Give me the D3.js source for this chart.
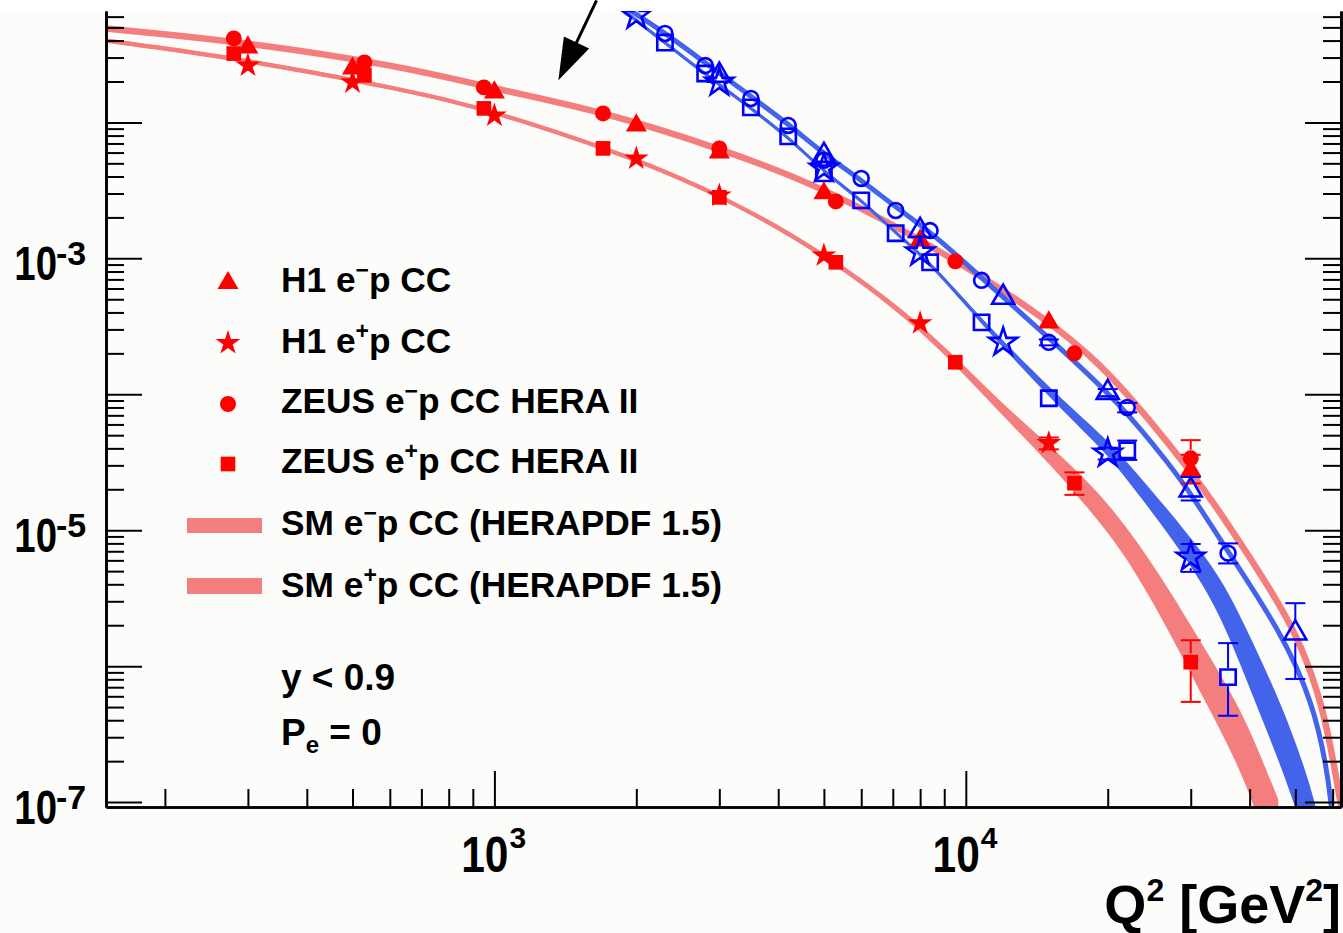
<!DOCTYPE html>
<html>
<head>
<meta charset="utf-8">
<script src="https://cdn.jsdelivr.net/npm/d3@7"></script>
<style>
html, body { margin: 0; padding: 0; background: #fcfcfa; }
svg { display: block; font-family: "Liberation Sans", Arial, Helvetica, sans-serif; font-weight: bold; }
</style>
</head>
<body>
<div id="vis"></div>
<script>
'use strict';

// ---- values (Q2 in GeV^2, cross section per GeV^2) ----

// H1 charged current
var h1EmCC_q2  = [300, 500, 1000, 2000, 3000, 5000, 8000, 15000, 30000];
var h1EmCC_sig = [0.0356, 0.0249, 0.01664, 0.00951, 0.00601, 0.00301, 0.001355, 3.38e-4, 2.76e-5];
var h1EmCC_err = [[0,0],[0,0],[0,0],[0,0],[0,0],[0,0],[0,0],[0,0],[0.2,0.3]];

var h1EpCC_q2  = [300, 500, 1000, 2000, 3000, 5000, 8000, 15000];
var h1EpCC_sig = [0.0262, 0.0197, 0.01125, 0.00543, 0.0029, 0.00105, 3.33e-4, 4.37e-5];
var h1EpCC_err = [[0,0],[0,0],[0,0],[0,0],[0,0],[0,0],[0,0],[0.1,0.1]];

// ZEUS charged current, HERA II
var zeusCC_q2    = [280, 530, 950, 1700, 3000, 5300, 9500, 17000, 30000];
var zeusEmCC_sig = [0.0415, 0.0276, 0.0181, 0.01164, 0.00644, 0.00262, 9.5e-4, 2.0e-4, 3.38e-5];
var zeusEmCC_err = [[0,0],[0,0],[0,0],[0,0],[0,0],[0,0],[0,0],[0,0],[0.26,0.36]];
var zeusEpCC_sig = [0.0321, 0.0222, 0.01268, 0.00644, 0.00281, 9.35e-4, 1.72e-4, 2.22e-5, 1.07e-6];
var zeusEpCC_err = [[0,0],[0,0],[0,0],[0,0],[0,0],[0,0],[0,0],[0.18,0.2],[0.49,0.45]];

// H1 neutral current (open markers)
var h1EmNC_q2  = [3000, 5000, 8000, 12000, 20000, 30000, 50000];
var h1EmNC_sig = [0.0222, 0.00571, 0.0016, 5.16e-4, 1.03e-4, 1.97e-5, 1.75e-6];
var h1EmNC_err = [[0,0],[0,0],[0,0],[0,0],[0.06,0.06],[0.16,0.25],[0.54,0.66]];

var h1EpNC_q2  = [2000, 3000, 5000, 8000, 12000, 20000, 30000];
var h1EpNC_sig = [0.0612, 0.0197, 0.00459, 0.00111, 2.41e-4, 3.68e-5, 6.33e-6];
var h1EpNC_err = [[0,0],[0,0],[0,0],[0,0],[0,0],[0.1,0.1],[0.22,0.25]];

// ZEUS neutral current (open markers)
var zeusNC_q2    = [2300, 2800, 3500, 4200, 5000, 6000, 7100, 8400, 10800, 15000, 22000, 36000];
var zeusEmNC_sig = [0.0451, 0.0262, 0.015, 0.0095, 0.00526, 0.00387, 0.00225, 0.0016, 6.89e-4, 2.41e-4, 8.0e-5, 6.78e-6];
var zeusEmNC_err = [[0,0],[0,0],[0,0],[0,0],[0,0],[0,0],[0,0],[0,0],[0,0],[0.05,0.05],[0.08,0.08],[0.16,0.18]];
var zeusEpNC_sig = [0.0387, 0.0229, 0.0129, 0.00789, 0.00422, 0.00267, 0.00153, 9.35e-4, 3.38e-4, 9.35e-5, 3.87e-5, 8.3e-7];
var zeusEpNC_err = [[0,0],[0,0],[0,0],[0,0],[0,0],[0,0],[0,0],[0,0],[0,0],[0,0],[0.15,0.18],[0.48,0.78]];

// SM predictions (HERAPDF 1.5); band = half width in decades
var smEmCC_q2  = [149, 278, 628, 991, 1694, 3006, 4966, 9490, 14930, 19280, 24600, 30200, 33800, 39500, 46400, 51200, 57000, 60700, 62500];
var smEmCC_sig = [0.0491, 0.0401, 0.0262, 0.0178, 0.01205, 0.00644, 0.00338, 0.001, 3.5e-4, 1.69e-4, 6.44e-5, 2.62e-5, 1.53e-5, 6.78e-6, 2.81e-6, 1.48e-6, 5.35e-7, 1.72e-7, 9.35e-8];

var smEpCC_q2   = [149, 278, 628, 991, 1963, 2958, 4831, 7980, 11800, 15300, 18600, 21600, 26500, 31700, 38200, 43200, 46000];
var smEpCC_sig  = [0.0401, 0.0301, 0.0178, 0.01225, 0.00553, 0.00301, 0.001186, 3.33e-4, 8.0e-5, 3.44e-5, 1.66e-5, 8.9e-6, 2.9e-6, 9.35e-7, 3.0e-7, 9.84e-8, 5.5e-8];
var smEpCC_band = [0.016, 0.016, 0.016, 0.016, 0.016, 0.017, 0.019, 0.024, 0.04, 0.07, 0.1, 0.11, 0.15, 0.19, 0.22, 0.26, 0.28];

var smEmNC_q2  = [1842, 2296, 2793, 3477, 4187, 5042, 6017, 7102, 8465, 10820, 15230, 21450, 27100, 29900, 36400, 46400, 54600, 58400, 59600];
var smEmNC_sig = [0.075, 0.0459, 0.0276, 0.0158, 0.00984, 0.00571, 0.00375, 0.00237, 0.00155, 7.13e-4, 2.49e-4, 8.3e-5, 3.0e-5, 1.9e-5, 6.55e-6, 1.84e-6, 5.35e-7, 1.72e-7, 9.35e-8];

var smEpNC_q2   = [1824, 2296, 2793, 3477, 4187, 5042, 6017, 7102, 8400, 10820, 15230, 19280, 22000, 30600, 35500, 40700, 46900, 52500, 55100];
var smEpNC_sig  = [0.0724, 0.0387, 0.0229, 0.0129, 0.00789, 0.00422, 0.00267, 0.00153, 9.35e-4, 3.38e-4, 9.84e-5, 4.59e-5, 2.76e-5, 6.55e-6, 2.81e-6, 9.35e-7, 3.0e-7, 9.84e-8, 5.26e-8];
var smEpNC_band = [0.013, 0.013, 0.013, 0.013, 0.013, 0.013, 0.013, 0.013, 0.013, 0.022, 0.035, 0.05, 0.065, 0.1, 0.15, 0.2, 0.23, 0.25, 0.26];

// arrow annotation (Q2, sigma)
var arrowFrom = [1647, 0.0789];
var arrowTo   = [1367, 0.0204];

var legendLabels = [
	['H1 e', '\u2212', 'p CC'],
	['H1 e', '+', 'p CC'],
	['ZEUS e', '\u2212', 'p CC HERA II'],
	['ZEUS e', '+', 'p CC HERA II'],
	['SM e', '\u2212', 'p CC (HERAPDF 1.5)'],
	['SM e', '+', 'p CC (HERAPDF 1.5)']
];

// ---- drawing ----
var width = 1343;
var height = 933;
var m = { left: 106, right: 1341, top: 11, bottom: 807 };

var red = '#ff0000';
var blue = '#0000ff';
var pink = '#f47e7e';
var bandBlue = '#4263ea';

var x = d3.scaleLog().domain([150, 62500]).range([m.left, m.right]);
var y = d3.scaleLog().domain([9.2e-8, 0.066]).range([m.bottom, m.top]);

var svg = d3.select('#vis').append('svg')
	.attr('width', width)
	.attr('height', height);

svg.append('rect').attr('width', width).attr('height', height).attr('fill', '#fcfcfa');
svg.append('rect').attr('width', width).attr('height', m.top - 1).attr('fill', '#ffffff');

svg.append('clipPath').attr('id', 'plotclip')
	.append('rect')
		.attr('x', m.left).attr('y', m.top)
		.attr('width', m.right - m.left).attr('height', m.bottom - m.top);

var plot = svg.append('g').attr('clip-path', 'url(#plotclip)');

// SM bands and lines
function zip( q2, sig, band ) {
	return q2.map(function(q, i) { return { q: q, s: sig[i], b: band ? band[i] : 0 }; });
}

var line = d3.line()
	.x(function(d) { return x(d.q); })
	.y(function(d) { return y(d.s); })
	.curve(d3.curveBasis);

var area = d3.area()
	.x(function(d) { return x(d.q); })
	.y0(function(d) { return y(d.s * Math.pow(10, -d.b)); })
	.y1(function(d) { return y(d.s * Math.pow(10, d.b)); })
	.curve(d3.curveBasis);

function drawBand( data, color, coreWidth ) {
	plot.append('path').datum(data)
		.attr('d', area)
		.attr('fill', color);
	plot.append('path').datum(data)
		.attr('d', line)
		.attr('fill', 'none')
		.attr('stroke', color)
		.attr('stroke-width', coreWidth);
}

function drawLine( data, color, w ) {
	plot.append('path').datum(data)
		.attr('d', line)
		.attr('fill', 'none')
		.attr('stroke', color)
		.attr('stroke-width', w);
}

drawLine( zip(smEmCC_q2, smEmCC_sig), pink, 6.5 );
drawBand( zip(smEpCC_q2, smEpCC_sig, smEpCC_band), pink, 4 );
drawLine( zip(smEmNC_q2, smEmNC_sig), bandBlue, 5 );
drawBand( zip(smEpNC_q2, smEpNC_sig, smEpNC_band), bandBlue, 3 );

// markers
var shapes = {
	triangle: d3.symbolTriangle,
	star: d3.symbolStar,
	circle: d3.symbolCircle,
	square: d3.symbolSquare
};
var filledSize = { triangle: 190, star: 190, circle: 200, square: 215 };
var openSize = { triangle: 210, star: 240, circle: 175, square: 235 };
var markerR = { triangle: 10, star: 11, circle: 8.5, square: 9 };

function symbolPath( shape, open ) {
	return d3.symbol().type(shapes[shape]).size(open ? openSize[shape] : filledSize[shape])();
}

function drawSeries( q2, sig, err, shape, color, open ) {
	var g = plot.append('g');
	var r = markerR[shape];

	q2.forEach(function(q, i) {
		var e = err[i];
		if ( !e[0] && !e[1] ) return;
		var cx = x(q), cy = y(sig[i]);
		var yHi = y(sig[i] * (1 + e[1]));
		var yLo = y(sig[i] * (1 - e[0]));
		var eb = g.append('g').attr('stroke', color).attr('stroke-width', 2);
		if ( cy - r > yHi ) eb.append('line').attr('x1', cx).attr('x2', cx).attr('y1', cy - r).attr('y2', yHi);
		if ( cy + r < yLo ) eb.append('line').attr('x1', cx).attr('x2', cx).attr('y1', cy + r).attr('y2', yLo);
		eb.append('line').attr('x1', cx - 10).attr('x2', cx + 10).attr('y1', yHi).attr('y2', yHi);
		eb.append('line').attr('x1', cx - 10).attr('x2', cx + 10).attr('y1', yLo).attr('y2', yLo);
	});

	g.selectAll('path.mk')
		.data(q2.map(function(q, i) { return [q, sig[i]]; }))
		.enter().append('path')
			.attr('class', 'mk')
			.attr('d', symbolPath(shape, open))
			.attr('transform', function(d) { return 'translate(' + x(d[0]) + ',' + y(d[1]) + ')'; })
			.attr('fill', open ? 'none' : color)
			.attr('stroke', open ? color : 'none')
			.attr('stroke-width', open ? 2.6 : 0);
}

drawSeries( h1EmCC_q2, h1EmCC_sig, h1EmCC_err, 'triangle', red, false );
drawSeries( h1EpCC_q2, h1EpCC_sig, h1EpCC_err, 'star', red, false );
drawSeries( zeusCC_q2, zeusEmCC_sig, zeusEmCC_err, 'circle', red, false );
drawSeries( zeusCC_q2, zeusEpCC_sig, zeusEpCC_err, 'square', red, false );

drawSeries( h1EmNC_q2, h1EmNC_sig, h1EmNC_err, 'triangle', blue, true );
drawSeries( h1EpNC_q2, h1EpNC_sig, h1EpNC_err, 'star', blue, true );
drawSeries( zeusNC_q2, zeusEmNC_sig, zeusEmNC_err, 'circle', blue, true );
drawSeries( zeusNC_q2, zeusEpNC_sig, zeusEpNC_err, 'square', blue, true );

// axes: ticks drawn inside the frame, major longer than minor
var yMajor = d3.range(-7, -1).map(function(p) { return Math.pow(10, p); });
var yMinor = [];
d3.range(-7, -1).forEach(function(p) {
	d3.range(2, 10).forEach(function(k) {
		var v = k * Math.pow(10, p);
		if ( v <= y.domain()[1] ) yMinor.push(v);
	});
});
var xMajor = [1e3, 1e4];
var xMinor = [];
[100, 1000, 10000].forEach(function(p) {
	d3.range(2, 10).forEach(function(k) {
		var v = k * p;
		if ( v >= x.domain()[0] && v <= x.domain()[1] ) xMinor.push(v);
	});
});

function styleAxis( g ) {
	g.selectAll('.tick line').attr('stroke', '#000').attr('stroke-width', 2);
	g.select('.domain').attr('stroke', '#000').attr('stroke-width', 2.6);
	g.selectAll('.tick text').remove();
}

var axes = svg.append('g');

axes.append('g').attr('transform', 'translate(' + m.left + ',0)')
	.call(d3.axisRight(y).tickValues(yMinor).tickSize(18).tickSizeOuter(0).tickFormat(''))
	.call(styleAxis);
axes.append('g').attr('transform', 'translate(' + m.left + ',0)')
	.call(d3.axisRight(y).tickValues(yMajor).tickSize(36).tickSizeOuter(0).tickFormat(''))
	.call(styleAxis);
axes.append('g').attr('transform', 'translate(' + m.right + ',0)')
	.call(d3.axisLeft(y).tickValues(yMinor).tickSize(18).tickSizeOuter(0).tickFormat(''))
	.call(styleAxis);
axes.append('g').attr('transform', 'translate(' + m.right + ',0)')
	.call(d3.axisLeft(y).tickValues(yMajor).tickSize(36).tickSizeOuter(0).tickFormat(''))
	.call(styleAxis);
axes.append('g').attr('transform', 'translate(0,' + m.bottom + ')')
	.call(d3.axisTop(x).tickValues(xMinor).tickSize(18).tickSizeOuter(0).tickFormat(''))
	.call(styleAxis);
axes.append('g').attr('transform', 'translate(0,' + m.bottom + ')')
	.call(d3.axisTop(x).tickValues(xMajor).tickSize(36).tickSizeOuter(0).tickFormat(''))
	.call(styleAxis);

// tick labels 10^n (every second decade on y)
var yLabelPowers = [-3, -5, -7];
yLabelPowers.forEach(function(p) {
	var py = y(Math.pow(10, p));
	svg.append('text')
		.attr('transform', 'translate(57,' + (py + 22) + ') scale(0.8,1)')
		.attr('text-anchor', 'end')
		.attr('font-size', 48)
		.text('10');
	svg.append('text')
		.attr('x', 56).attr('y', py + 7)
		.attr('font-size', 34)
		.text(String(p));
});

[3, 4].forEach(function(p) {
	var px = x(Math.pow(10, p));
	svg.append('text')
		.attr('transform', 'translate(' + (px + 14) + ',872) scale(0.85,1)')
		.attr('text-anchor', 'end')
		.attr('font-size', 50)
		.text('10');
	svg.append('text')
		.attr('x', px + 15).attr('y', 848)
		.attr('font-size', 30)
		.text(String(p));
});

// axis title
var title = svg.append('text')
	.attr('x', 1341).attr('y', 923)
	.attr('text-anchor', 'end')
	.attr('font-size', 54);
title.append('tspan').text('Q');
title.append('tspan').attr('font-size', 32).attr('dy', -22).text('2');
title.append('tspan').attr('dy', 22).text(' [GeV');
title.append('tspan').attr('font-size', 32).attr('dy', -22).text('2');
title.append('tspan').attr('dy', 22).text(']');

// arrow
var ax0 = x(arrowFrom[0]), ay0 = y(arrowFrom[1]);
var ax1 = x(arrowTo[0]), ay1 = y(arrowTo[1]);
var len = Math.hypot(ax1 - ax0, ay1 - ay0);
var ux = (ax1 - ax0) / len, uy = (ay1 - ay0) / len;
var headLen = 42, headHalf = 14;
var bx = ax1 - ux * headLen, by = ay1 - uy * headLen;
svg.append('line')
	.attr('x1', ax0).attr('y1', ay0)
	.attr('x2', bx + ux * 4).attr('y2', by + uy * 4)
	.attr('stroke', '#000').attr('stroke-width', 3);
svg.append('path')
	.attr('d', 'M' + ax1 + ',' + ay1 +
		'L' + (bx - uy * headHalf) + ',' + (by + ux * headHalf) +
		'L' + (bx + uy * headHalf) + ',' + (by - ux * headHalf) + 'Z')
	.attr('fill', '#000');

// legend
var legend = svg.append('g');
var legendMarkers = ['triangle', 'star', 'circle', 'square'];
var legendRowsY = [283, 343, 404, 464];
legendMarkers.forEach(function(shape, i) {
	legend.append('path')
		.attr('d', symbolPath(shape, false))
		.attr('transform', 'translate(228,' + legendRowsY[i] + ')')
		.attr('fill', red);
});
legend.append('rect').attr('x', 187).attr('y', 518).attr('width', 75).attr('height', 15).attr('fill', pink);
legend.append('rect').attr('x', 187).attr('y', 578).attr('width', 75).attr('height', 16).attr('fill', pink);

var baselines = [292, 353, 413, 473, 535, 597];
legendLabels.forEach(function(parts, i) {
	var t = legend.append('text')
		.attr('x', 281).attr('y', baselines[i])
		.attr('font-size', 35.3);
	t.append('tspan').text(parts[0]);
	t.append('tspan').attr('font-size', 23).attr('dy', -14).text(parts[1]);
	t.append('tspan').attr('dy', 14).text(parts[2]);
});

svg.append('text')
	.attr('x', 281).attr('y', 690)
	.attr('font-size', 37)
	.text('y < 0.9');
var pe = svg.append('text')
	.attr('x', 281).attr('y', 745)
	.attr('font-size', 37);
pe.append('tspan').text('P');
pe.append('tspan').attr('font-size', 24).attr('dy', 8).text('e');
pe.append('tspan').attr('dy', -8).text(' = 0');
</script>
</body>
</html>
